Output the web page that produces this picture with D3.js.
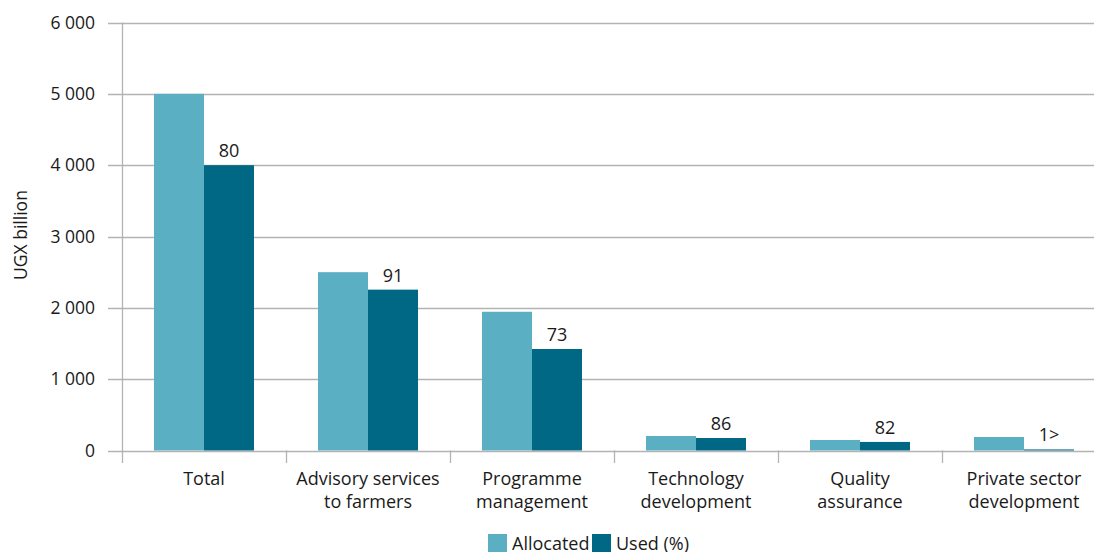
<!DOCTYPE html>
<html><head><meta charset="utf-8">
<script src="https://cdn.jsdelivr.net/npm/d3@7"></script>
<style>
body{margin:0;background:#fff;}
svg{display:block;font-family:"Open Sans",Lato,sans-serif;}
</style></head>
<body>
<svg id="c" width="1094" height="552"></svg>
<script>
const categories = [["Total"],["Advisory services","to farmers"],["Programme","management"],["Technology","development"],["Quality","assurance"],["Private sector","development"]];
const allocated = [5000, 2500, 1945, 203, 147, 189];
const used = [4000, 2255, 1423, 175, 120, 15];
const usedPct = ["80","91","73","86","82","1>"];
const yTicks = [0,1000,2000,3000,4000,5000,6000];
const seriesNames = ["Allocated","Used (%)"];
const colors = ["#5aafc3","#006884"];

(function(){
const svg = d3.select("#c");
const mLeft = 122, mTop = 22.5, mBottom = 450.5;
const x = d3.scaleBand().domain(d3.range(categories.length)).range([mLeft, mLeft + 164*6]);
const x1 = d3.scaleBand().domain([0,1]).range([32,132]);
const y = d3.scaleLinear().domain([0,6000]).range([mBottom, mTop]);
const loc = d3.formatLocale({decimal:".", thousands:"\u00a0", grouping:[3], currency:["",""]});
const fmt = loc.format(",d");
const tc = "#1a1a1a";

svg.append("g").selectAll("line").data(yTicks).join("line")
  .attr("x1",108).attr("x2",1094)
  .attr("y1",d=>Math.round(y(d))+0.5).attr("y2",d=>Math.round(y(d))+0.5)
  .attr("stroke","#b3b3b3").attr("stroke-width",1.3);
svg.append("g").selectAll("text").data(yTicks).join("text")
  .attr("x",95).attr("y",d=>y(d)).attr("dy","0.36em")
  .attr("text-anchor","end").attr("font-size",17.5).attr("fill",tc)
  .text(d=>fmt(d));
svg.append("line").attr("x1",mLeft+0.5).attr("x2",mLeft+0.5).attr("y1",mTop).attr("y2",463)
  .attr("stroke","#b3b3b3").attr("stroke-width",1.3);
svg.append("g").selectAll("line").data(d3.range(1,categories.length)).join("line")
  .attr("x1",d=>x(d)+0.5).attr("x2",d=>x(d)+0.5).attr("y1",mBottom).attr("y2",463)
  .attr("stroke","#b3b3b3").attr("stroke-width",1.3);

const g = svg.append("g").selectAll("g").data(categories.map((c,i)=>i)).join("g")
  .attr("transform",i=>`translate(${x(i)},0)`);
g.append("rect").attr("x",x1(0)).attr("width",x1.bandwidth())
  .attr("y",i=>y(allocated[i])).attr("height",i=>mBottom-y(allocated[i])).attr("fill",colors[0]);
g.append("rect").attr("x",x1(1)).attr("width",x1.bandwidth())
  .attr("y",i=>y(used[i])).attr("height",i=>mBottom-y(used[i])).attr("fill",colors[1]);
g.append("text").attr("x",x1(1)+x1.bandwidth()/2).attr("y",i=>y(used[i])-8)
  .attr("text-anchor","middle").attr("font-size",18).attr("fill",tc)
  .text(i=>usedPct[i]);
g.append("text").attr("text-anchor","middle").attr("font-size",18).attr("fill",tc)
  .selectAll("tspan").data(i=>categories[i]).join("tspan")
  .attr("x",82).attr("y",(d,j)=>485+j*22.5).text(d=>d);

svg.append("text").attr("transform","translate(27,235) rotate(-90)")
  .attr("text-anchor","middle").attr("font-size",17.5).attr("fill",tc).text("UGX billion");

const lx = [488, 592];
seriesNames.forEach((n,i)=>{
  svg.append("rect").attr("x",lx[i]).attr("y",534).attr("width",19).attr("height",18).attr("fill",colors[i]);
  svg.append("text").attr("x",lx[i]+24).attr("y",550).attr("font-size",18).attr("fill",tc).text(n);
});
})();
</script>
</body></html>
